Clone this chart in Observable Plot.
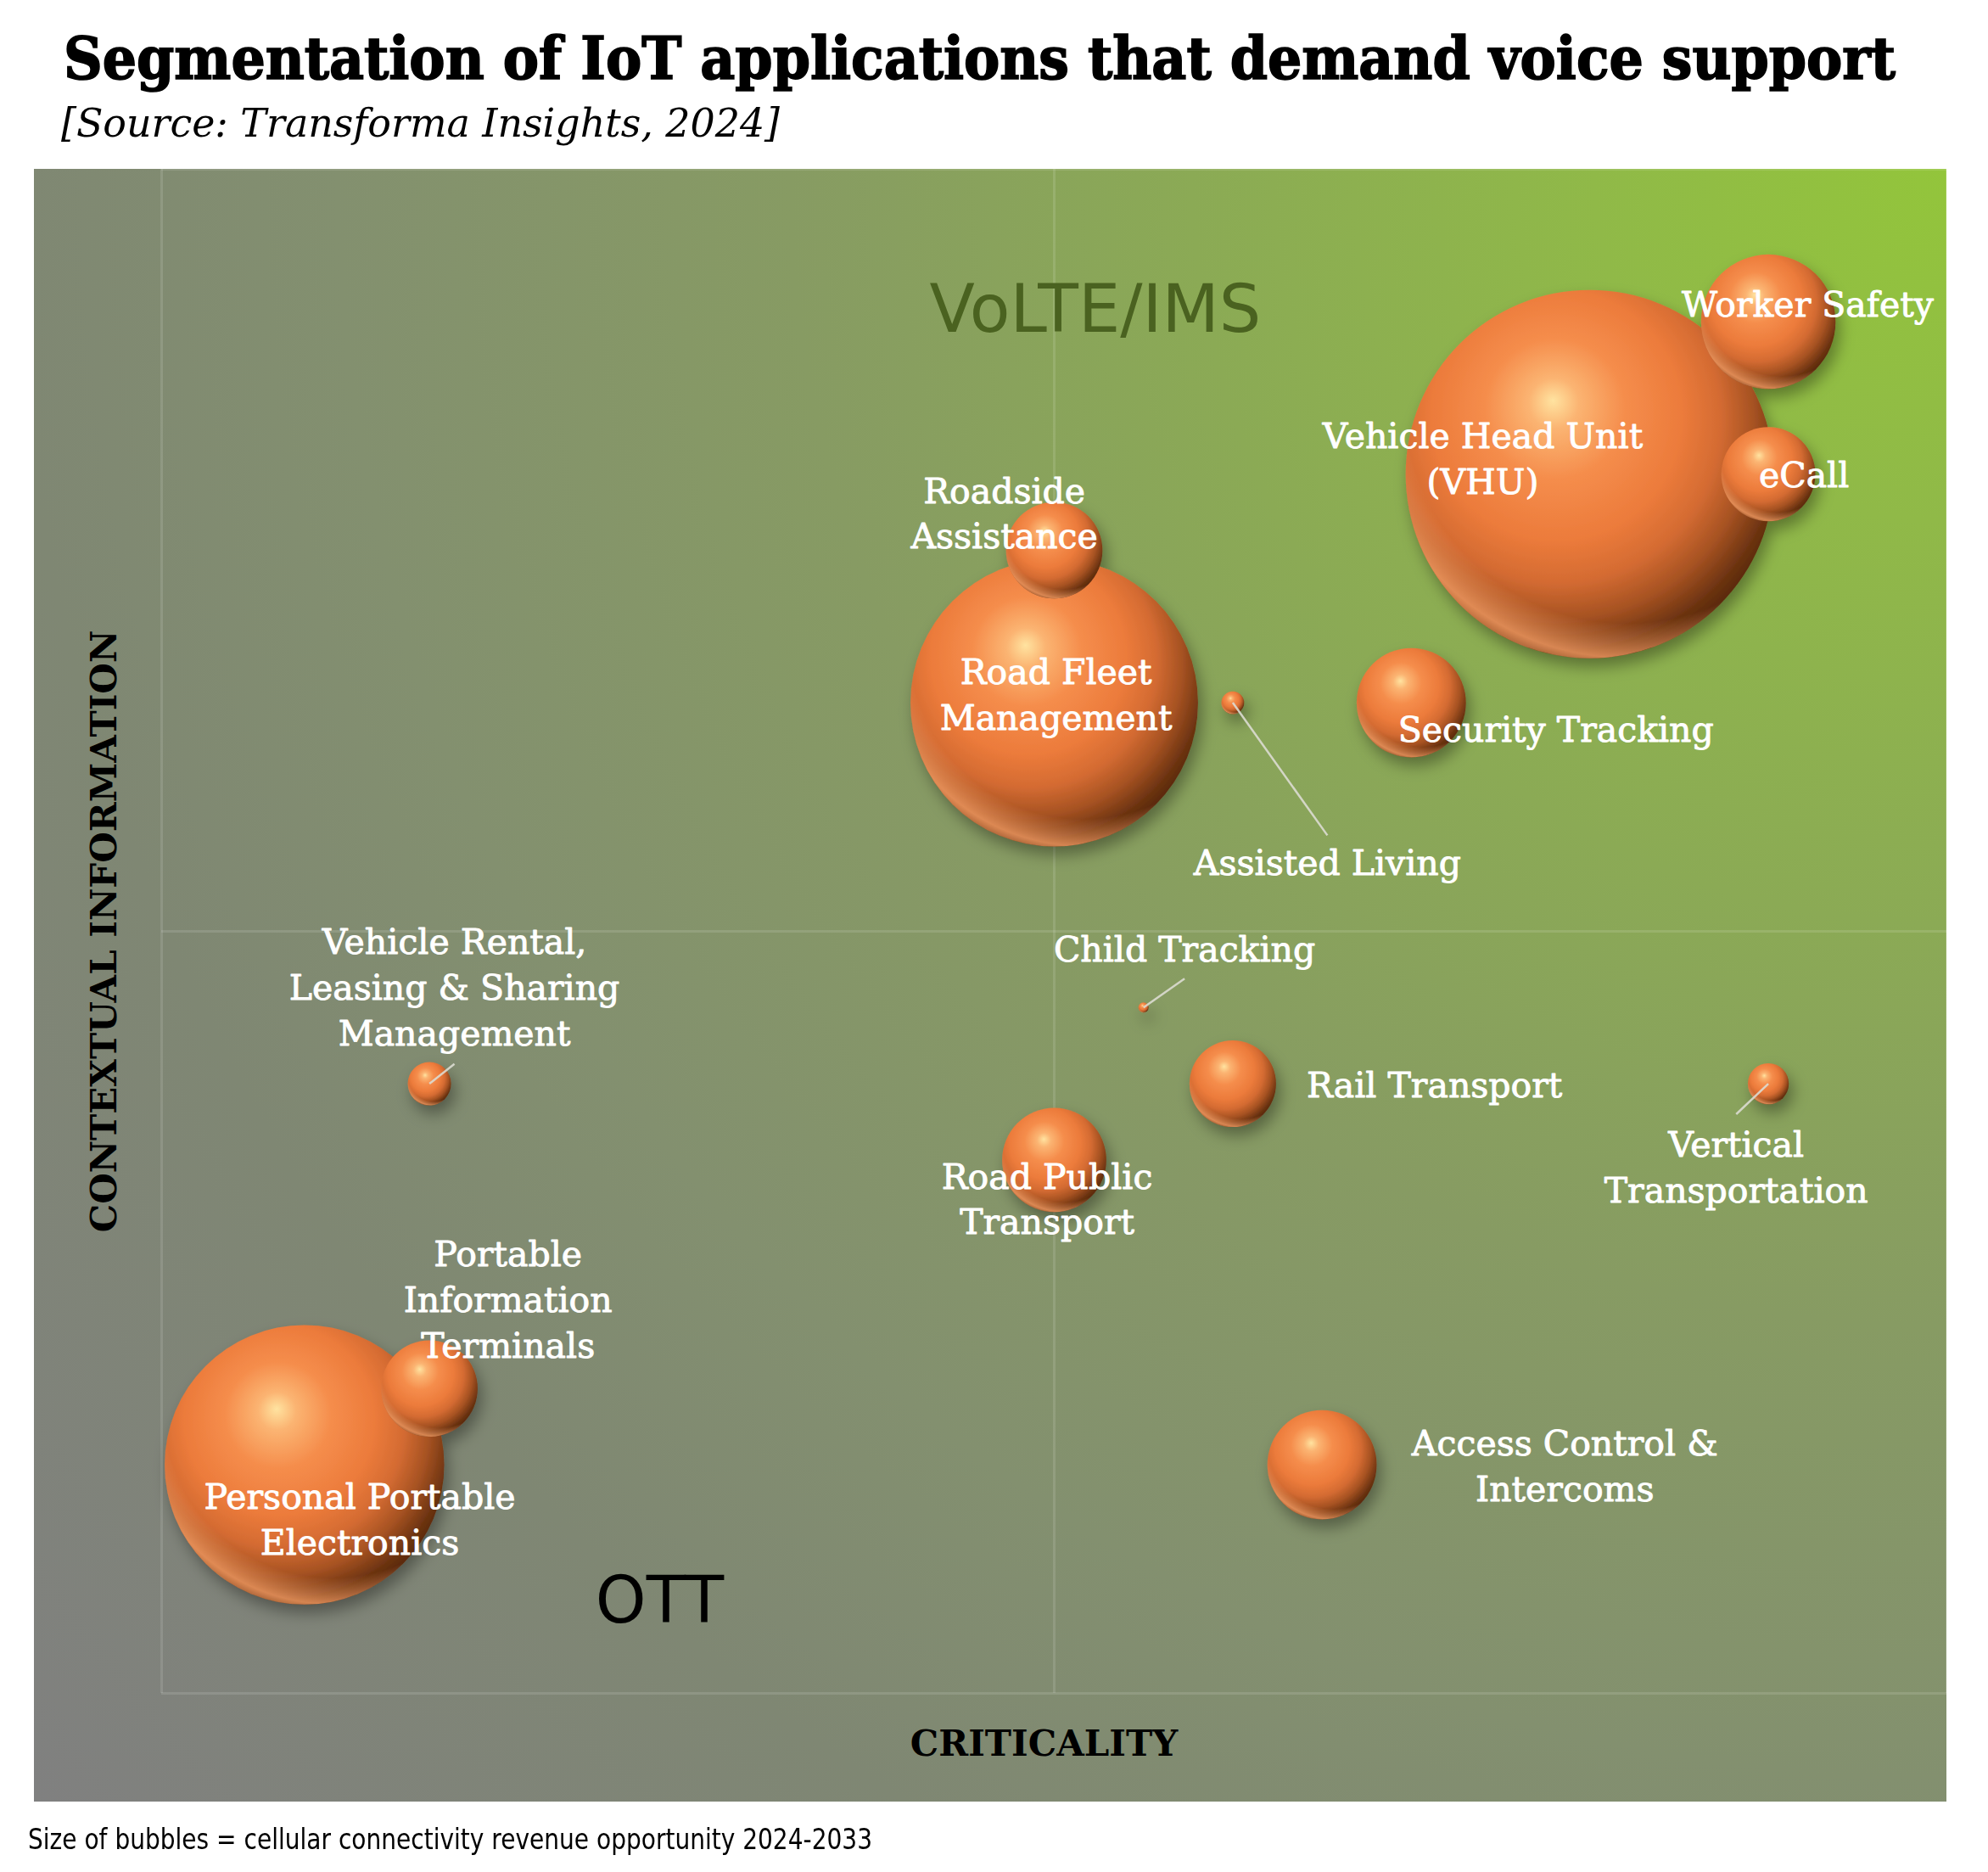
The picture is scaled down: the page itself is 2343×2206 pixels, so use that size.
<!DOCTYPE html>
<html>
<head>
<meta charset="utf-8">
<script src="https://cdn.jsdelivr.net/npm/d3@7"></script>
<script src="https://cdn.jsdelivr.net/npm/@observablehq/plot@0.6"></script>
<style>
  html, body { margin: 0; padding: 0; background: #fff; width: 2343px; height: 2206px; overflow: hidden; position: relative; }
  .t { position: absolute; white-space: nowrap; line-height: 1; transform-origin: 0 0; color: #000; }
  #title { left: 75px; top: 34px; font-family: "DejaVu Serif Condensed", "DejaVu Serif"; font-stretch: condensed; font-weight: bold; font-size: 70px; -webkit-text-stroke: 1.6px #000; }
  #subtitle { left: 72px; top: 122px; font-family: "DejaVu Serif Condensed", "DejaVu Serif"; font-stretch: condensed; font-style: italic; font-size: 46px; }
  #footer { left: 33px; top: 2151px; font-family: "DejaVu Sans Condensed", "DejaVu Sans"; font-stretch: condensed; font-size: 33px; }
  #chart { position: absolute; left: 40px; top: 199px; }
</style>
</head>
<body>
<div id="title" class="t">Segmentation of IoT applications that demand voice support</div>
<div id="subtitle" class="t">[Source: Transforma Insights, 2024]</div>
<div id="chart"></div>
<div id="footer" class="t">Size of bubbles = cellular connectivity revenue opportunity 2024-2033</div>
<script>
// ---------------- data ----------------
const apps = [
  "Vehicle Head Unit\n(VHU)", "Road Fleet\nManagement", "Personal Portable\nElectronics",
  "Worker Safety", "Access Control &\nIntercoms", "Security Tracking", "Road Public\nTransport",
  "Roadside\nAssistance", "Portable\nInformation\nTerminals", "eCall", "Rail Transport",
  "Vehicle Rental,\nLeasing & Sharing\nManagement", "Vertical\nTransportation",
  "Assisted Living", "Child Tracking"
];
const criticality = [8, 5, 0.8, 9, 6.5, 7, 5, 5, 1.5, 9, 6, 1.5, 9, 6, 5.5];
const contextual  = [8, 6.5, 1.5, 9, 1.5, 6.5, 3.5, 7.5, 2, 8, 4, 4, 4, 6.5, 4.5];
const revenue     = [210, 128, 121, 28, 18.5, 18.5, 16.8, 14.4, 14.4, 13.7, 11.6, 2.9, 2.6, 0.8, 0.16];
// label offsets from bubble centre (data units)
const labelDx = [-0.60, 0.01, 0.31, 0.22, 1.36, 0.81, -0.04, -0.28, 0.44, 0.20, 1.13, 0.14, -0.18, 0.53, 0.23];
const labelDy = [0.09, 0.04, -0.37, 0.10, -0.02, -0.19, -0.27, 0.23, 0.57, -0.02, -0.02, 0.62, -0.56, -1.06, 0.37];
// leader-line ends (data units), null = no leader
const leaderX = [null, null, null, null, null, null, null, null, null, null, null, 1.64, 8.82, 6.53, 5.73];
const leaderY = [null, null, null, null, null, null, null, null, null, null, null, 4.13, 3.80, 5.63, 4.69];
const quadrantLabels = ["VoLTE/IMS", "OTT"];
const quadrantX = [5.23, 2.79];
const quadrantY = [9.07, 0.60];
const gridTicks = [0, 5, 10];
const xLabel = "CRITICALITY";
const yLabel = "CONTEXTUAL INFORMATION";

const rows = apps.map((name, i) => ({
  name, x: criticality[i], y: contextual[i], v: revenue[i],
  lx: criticality[i] + labelDx[i], ly: contextual[i] + labelDy[i],
  ex: leaderX[i], ey: leaderY[i]
}));
const bubbles = rows.slice().sort((a, b) => b.v - a.v);
const leaders = rows.filter(d => d.ex != null);
const quads = quadrantLabels.map((q, i) => ({q, x: quadrantX[i], y: quadrantY[i]}));

const bg = "radial-gradient(circle farthest-corner at 100% 0%, #93c53b 0%, #90b948 14%, #8baa55 30%, #879b63 46%, #83906f 64%, #7f8773 77%, #808080 100%)";

const plot = Plot.plot({
  width: 2254,
  height: 1924,
  marginLeft: 150, marginRight: 0, marginTop: 0, marginBottom: 128,
  style: {background: bg, overflow: "visible"},
  x: {domain: [0, 10], axis: null},
  y: {domain: [0, 10], axis: null},
  r: {type: "sqrt", domain: [0, 210], range: [0, 217]},
  marks: [
    Plot.ruleX(gridTicks, {stroke: "white", strokeOpacity: 0.12, strokeWidth: 3}),
    Plot.ruleY(gridTicks, {stroke: "white", strokeOpacity: 0.12, strokeWidth: 3}),
    Plot.text(quads, {x: "x", y: "y", text: "q", fill: (d, i) => i === 0 ? "#4a6220" : "#000", fontFamily: "DejaVu Sans", fontSize: (d, i) => i === 0 ? 78 : 76}),
    Plot.dot(bubbles, {x: "x", y: "y", r: "v", fill: "url(#sphere)", stroke: null}),
    Plot.dot(bubbles, {x: "x", y: "y", r: "v", fill: "url(#rim)", stroke: null}),
    Plot.link(leaders, {x1: "x", y1: "y", x2: "ex", y2: "ey", stroke: "#dcdcd2", strokeWidth: 2.5, strokeOpacity: 0.9}),
    Plot.text(rows, {x: "lx", y: "ly", text: "name", dy: -5, fill: "white", stroke: "white", strokeWidth: 0.9, fontFamily: "DejaVu Serif", fontSize: 41, lineHeight: 1.31, textAnchor: "middle", lineAnchor: "middle"}),
    Plot.text([xLabel], {frameAnchor: "bottom", dy: 73, dx: -12, fontFamily: "DejaVu Serif", fontWeight: "bold", fontSize: 42, fill: "#000"}),
    Plot.text([yLabel], {frameAnchor: "left", dx: -67, rotate: -90, textAnchor: "middle", fontFamily: "DejaVu Serif", fontWeight: "bold", fontSize: 42, fill: "#000"})
  ]
});

// gradients and shadow
const defs = `
<defs>
  <radialGradient id="sphere" cx="0.42" cy="0.38" r="0.68" fx="0.4" fy="0.3">
    <stop offset="0" stop-color="#ffe3a0"/>
    <stop offset="0.1" stop-color="#fbb472"/>
    <stop offset="0.28" stop-color="#f58d4c"/>
    <stop offset="0.5" stop-color="#ec7b3b"/>
    <stop offset="0.65" stop-color="#d46b32"/>
    <stop offset="0.78" stop-color="#a65222"/>
    <stop offset="0.9" stop-color="#6a3210"/>
    <stop offset="1" stop-color="#4a2008"/>
  </radialGradient>
  <radialGradient id="rim" cx="0.6" cy="0.3" r="0.72">
    <stop offset="0" stop-color="#f19a62" stop-opacity="0"/>
    <stop offset="0.84" stop-color="#f19a62" stop-opacity="0"/>
    <stop offset="0.97" stop-color="#f19a62" stop-opacity="0.8"/>
    <stop offset="1" stop-color="#f19a62" stop-opacity="0.55"/>
  </radialGradient>
  <filter id="shadow" x="-20%" y="-20%" width="140%" height="140%">
    <feDropShadow dx="5" dy="10" stdDeviation="9" flood-color="#000" flood-opacity="0.35"/>
  </filter>
</defs>`;
plot.insertAdjacentHTML("afterbegin", defs);
const dotGroups = plot.querySelectorAll('g[aria-label="dot"]');
if (dotGroups[0]) dotGroups[0].setAttribute("filter", "url(#shadow)");

document.getElementById("chart").appendChild(plot);

function fit(id, w) {
  const el = document.getElementById(id);
  const cw = el.getBoundingClientRect().width;
  el.style.transform = `scaleX(${w / cw})`;
}
fit("title", 2159);
fit("subtitle", 847);
fit("footer", 995);
</script>
</body>
</html>
